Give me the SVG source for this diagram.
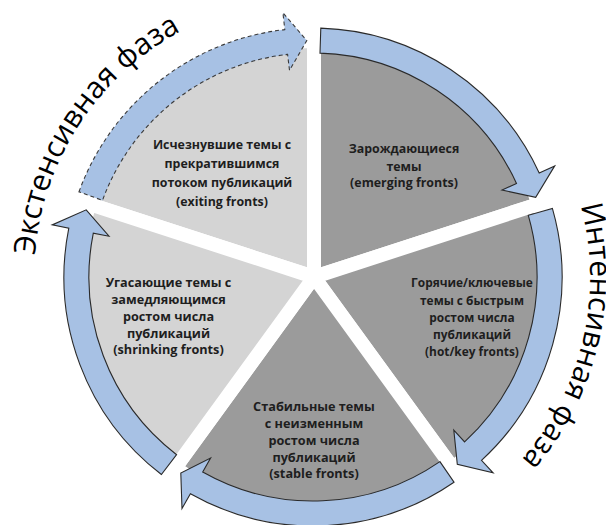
<svg xmlns="http://www.w3.org/2000/svg" width="606" height="525" viewBox="0 0 606 525">
<style>
.bg{fill:#ffffff}
.sec{stroke:#ffffff;stroke-width:14;stroke-linejoin:round}
.light{fill:#d4d4d4}
.dark{fill:#9b9b9b}
.lbl{font-family:"Open Sans","Noto Sans","DejaVu Sans",sans-serif;font-weight:bold;fill:#1e1e1e;text-anchor:middle}
.arr{fill:#a7c1e4;stroke:#2a2a2a;stroke-width:1.1;stroke-linejoin:miter}
.arrd{fill:#a7c1e4;stroke:#3a3a3a;stroke-width:1.1;stroke-dasharray:4 3}
.phase{font-family:"Open Sans","Noto Sans","DejaVu Sans",sans-serif;font-size:30px;fill:#000000}
</style>
<defs>
<path id="arcL" d="M34.9,255.1 A279,279 0 0 1 217.6,14.8"/>
<path id="arcR" d="M580.6,205.4 A277,277 0 0 1 451.5,516.9"/>
</defs>
<rect class="bg" x="0" y="0" width="606" height="525"/>

<g id="node-exiting">
<path class="sec light" d="M314,277 L89.55,204.07 A236,236 0 0 1 314,41 Z"/>
<text class="lbl" font-size="12.4"><tspan x="222" y="149">Исчезнувшие темы с</tspan><tspan x="222" y="168">прекратившимся</tspan><tspan x="222" y="187">потоком публикаций</tspan><tspan x="222" y="205.5">(exiting fronts)</tspan></text>
</g>
<g id="node-emerging">
<path class="sec dark" d="M314,277 L314,41 A236,236 0 0 1 538.45,204.07 Z"/>
<text class="lbl" font-size="12.4"><tspan x="404" y="153">Зарождающиеся</tspan><tspan x="404" y="170.5">темы</tspan><tspan x="404" y="187">(emerging fronts)</tspan></text>
</g>
<g id="node-hot">
<path class="sec dark" d="M314,277 L538.45,204.07 A236,236 0 0 1 452.72,467.93 Z"/>
<text class="lbl" font-size="11.9"><tspan x="472" y="287">Горячие/ключевые</tspan><tspan x="472" y="304.5">темы с быстрым</tspan><tspan x="472" y="322">ростом числа</tspan><tspan x="472" y="339">публикаций</tspan><tspan x="472" y="356">(hot/key fronts)</tspan></text>
</g>
<g id="node-stable">
<path class="sec dark" d="M314,277 L452.72,467.93 A236,236 0 0 1 175.28,467.93 Z"/>
<text class="lbl" font-size="12.7"><tspan x="314" y="411">Стабильные темы</tspan><tspan x="314" y="428">с неизменным</tspan><tspan x="314" y="445">ростом числа</tspan><tspan x="314" y="461.5">публикаций</tspan><tspan x="314" y="478">(stable fronts)</tspan></text>
</g>
<g id="node-shrinking">
<path class="sec light" d="M314,277 L175.28,467.93 A236,236 0 0 1 89.55,204.07 Z"/>
<text class="lbl" font-size="12.7"><tspan x="168.5" y="287">Угасающие темы с</tspan><tspan x="168.5" y="304">замедляющимся</tspan><tspan x="168.5" y="321">ростом числа</tspan><tspan x="168.5" y="337.5">публикаций</tspan><tspan x="168.5" y="354">(shrinking fronts)</tspan></text>
</g>

<g id="connectors">
<path class="arr" d="M320.8,28.1 A249,249 0 0 1 539.2,173.0 L554.7,165.9 L535.7,197.3 L502.0,190.1 L516.5,183.4 A224,224 0 0 0 320.0,53.1 Z"/>
<path class="arr" d="M552.4,208.4 A249,249 0 0 1 481.5,460.3 L493.1,472.8 L457.3,464.4 L453.8,430.1 L464.6,441.9 A224,224 0 0 0 528.3,215.3 Z"/>
<path class="arr" d="M454.0,482.2 A249,249 0 0 1 190.4,493.7 L182.0,508.5 L180.8,473.1 L210.6,458.0 L202.7,472.0 A224,224 0 0 0 439.9,461.6 Z"/>
<path class="arr" d="M161.4,474.5 A249,249 0 0 1 68.8,228.2 L52.2,224.9 L86.2,209.8 L109.0,236.2 L93.3,233.1 A224,224 0 0 0 176.6,454.7 Z"/>
<path class="arrd" d="M79.0,191.8 A249,249 0 0 1 284.8,29.6 L282.9,12.7 L306.8,40.6 L289.5,70.3 L287.6,54.4 A224,224 0 0 0 102.5,200.4 Z"/>
</g>

<g id="phase-labels">
<text class="phase"><textPath href="#arcL">Экстенсивная фаза</textPath></text>
<text class="phase"><textPath href="#arcR">Интенсивная фаза</textPath></text>
</g>
</svg>
